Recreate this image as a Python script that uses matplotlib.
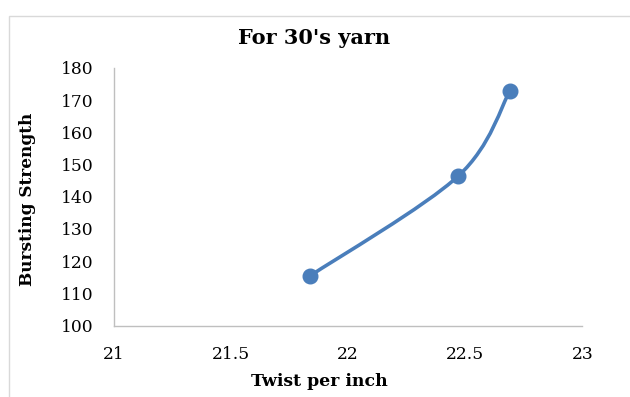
import numpy as np
import matplotlib
matplotlib.use('agg')
import matplotlib.pyplot as plt
from matplotlib.path import Path
from matplotlib.patches import PathPatch, Rectangle

# twist per inch vs bursting strength, 30's yarn
twist = [21.84, 22.47, 22.69]
strength = [115.5, 146.4, 172.8]

blue = '#4a7ebb'
grey = '#bfbfbf'
serif = ['DejaVu Serif']


def smooth_path(xs, ys):
    '''Excel-like smoothed line through the points (cubic bezier)'''
    pts = np.column_stack([xs, ys])
    n = len(pts)
    verts = [pts[0]]
    codes = [Path.MOVETO]
    for i in range(n - 1):
        p0 = pts[i - 1] if i > 0 else pts[i]
        p1 = pts[i]
        p2 = pts[i + 1]
        p3 = pts[i + 2] if i + 2 < n else pts[i + 1]
        c1 = p1 + (p2 - p0) / 6.0
        c2 = p2 - (p3 - p1) / 6.0
        verts += [c1, c2, p2]
        codes += [Path.CURVE4] * 3
    return Path(verts, codes)


fig = plt.figure(figsize=(6.3, 3.97), dpi=100)
fig.patches.append(Rectangle((9 / 630, -0.1), 1.2, 1 - 16 / 397 + 0.1,
                             transform=fig.transFigure, fill=False,
                             edgecolor='#d9d9d9', linewidth=1))

ax = fig.add_axes([0.1802, 0.1801, 0.9246 - 0.1802, 0.829 - 0.1801])
ax.add_patch(PathPatch(smooth_path(twist, strength), facecolor='none',
                       edgecolor=blue, linewidth=2.6, zorder=2))
ax.plot(twist, strength, 'o', color=blue, markersize=10.5, zorder=3)

ax.set_xlim(21, 23)
ax.set_ylim(100, 180)
ax.set_xticks([21, 21.5, 22, 22.5, 23])
ax.set_xticklabels(['21', '21.5', '22', '22.5', '23'])
ax.set_yticks(range(100, 181, 10))

for s in ['top', 'right']:
    ax.spines[s].set_visible(False)
for s in ['left', 'bottom']:
    ax.spines[s].set_color(grey)
    ax.spines[s].set_linewidth(1)
ax.tick_params(length=0, labelsize=12.3)
ax.tick_params(axis='y', pad=14.5)
ax.tick_params(axis='x', pad=15)
for lbl in ax.get_xticklabels() + ax.get_yticklabels():
    lbl.set_family(serif)

fig.text(314 / 630, 1 - 38 / 397, "For 30's yarn", family=serif,
         fontweight='bold', fontsize=15, ha='center', va='center')
fig.text(319 / 630, 1 - 382 / 397, 'Twist per inch', family=serif,
         fontweight='bold', fontsize=12.4, ha='center', va='center')
fig.text(28 / 630, 1 - 199 / 397, 'Bursting Strength', family=serif,
         fontweight='bold', fontsize=12.2, ha='center', va='center',
         rotation=90)

plt.savefig('out.png', dpi=100)
plt.close()
